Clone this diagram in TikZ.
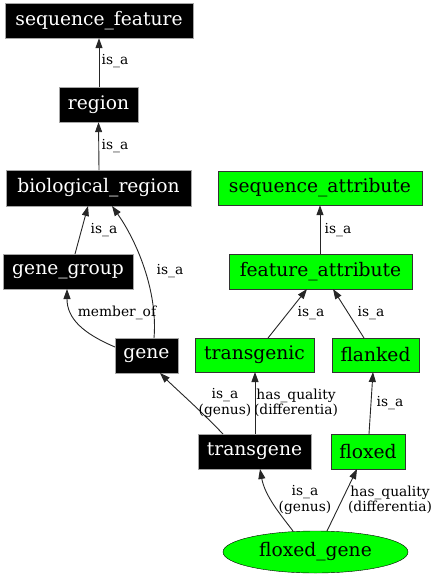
\documentclass[tikz,border=0pt]{standalone}
\usepackage{fontspec}
\setmainfont{DejaVu Serif}
\usetikzlibrary{arrows.meta,shapes.geometric}
\begin{document}
\begin{tikzpicture}[x=1pt,y=-1pt,
  blk/.style={rectangle,draw=gray!70,fill=black,text=white,inner sep=0pt,font=\fontsize{18.67}{20}\selectfont},
  grn/.style={rectangle,draw=black!80,fill=green,text=black,inner sep=0pt,font=\fontsize{18.67}{20}\selectfont},
  ell/.style={ellipse,draw=black,fill=green,inner sep=0pt,font=\fontsize{18.67}{20}\selectfont},
  lbl/.style={inner sep=0pt,align=center,font=\fontsize{13.8}{15.5}\selectfont},
  edge/.style={draw=black!85,line width=0.9pt,-{Triangle[length=10pt,width=7pt]}}]
\useasboundingbox (0,0) rectangle (436,576);
% nodes
\node[blk,minimum width=188,minimum height=35] (sf) at (99,20.5) {sequence\_feature};
\node[blk,minimum width=79,minimum height=35] (rg) at (98.5,104.5) {region};
\node[blk,minimum width=185,minimum height=36] (br) at (98.5,188) {biological\_region};
\node[blk,minimum width=130,minimum height=35] (gg) at (68,271.5) {gene\_group};
\node[blk,minimum width=63,minimum height=35] (gn) at (146.5,355.5) {gene};
\node[blk,minimum width=113,minimum height=35] (tg) at (254.5,451.5) {transgene};
\node[grn,minimum width=204,minimum height=34] (sa) at (320,188) {sequence\_attribute};
\node[grn,minimum width=183,minimum height=35] (fa) at (320.5,271.5) {feature\_attribute};
\node[grn,minimum width=119,minimum height=34] (tc) at (254.5,355) {transgenic};
\node[grn,minimum width=87,minimum height=34] (fl) at (375.5,355) {flanked};
\node[grn,minimum width=74,minimum height=35] (fx) at (368,451.5) {floxed};
\node[ell,minimum width=185,minimum height=42] (fg) at (315.5,552) {floxed\_gene};
% connector endpoints
\coordinate (rgT) at (99,87);
\coordinate (brT) at (99,170);
\coordinate (ggT) at (75,254);
\coordinate (gnT) at (154,338);
\coordinate (gnL) at (115,347);
\coordinate (tgT1) at (223,434);
\coordinate (tgT2) at (255,434);
\coordinate (fgT1) at (293,531);
\coordinate (fgT2) at (327,531);
\coordinate (fxT) at (369,434);
\coordinate (tcT) at (268,338);
\coordinate (flT) at (364,338);
\coordinate (faT) at (320,254);
% edges
\draw[edge] (rgT) -- (sf.south);
\draw[edge] (brT) -- (rg.south);
\draw[edge] (ggT) -- (88,206);
\draw[edge] (gnT) .. controls (158,290) and (136,240) .. (112,206);
\draw[edge] (gnL) .. controls (82,333) and (67,318) .. (67,289);
\draw[edge] (tgT1) .. controls (200,410) and (175,388) .. (160,373);
\draw[edge] (tgT2) -- (255,372);
\draw[edge] (fgT1) .. controls (280,514) and (265,496) .. (260,469);
\draw[edge] (fgT2) -- (357,469);
\draw[edge] (fxT) -- (373,372);
\draw[edge] (tcT) -- (307,289);
\draw[edge] (flT) -- (333,289);
\draw[edge] (faT) -- (sa.south);
% labels
\node[lbl] (l1) at (115,61) {is\_a};
\node[lbl] (l2) at (115,146) {is\_a};
\node[lbl] (l3) at (104,230) {is\_a};
\node[lbl] (l4) at (170,271) {is\_a};
\node[lbl] (l5) at (117,313) {member\_of};
\node[lbl] (l6) at (225,403) {is\_a\\(genus)};
\node[lbl] (l7) at (296,403) {has\_quality\\(differentia)};
\node[lbl] (l8) at (305,500) {is\_a\\(genus)};
\node[lbl] (l9) at (390,500) {has\_quality\\(differentia)};
\node[lbl] (l10) at (390,403) {is\_a};
\node[lbl] (l11) at (311,313) {is\_a};
\node[lbl] (l12) at (371,313) {is\_a};
\node[lbl] (l13) at (338,230) {is\_a};
\end{tikzpicture}
\end{document}
